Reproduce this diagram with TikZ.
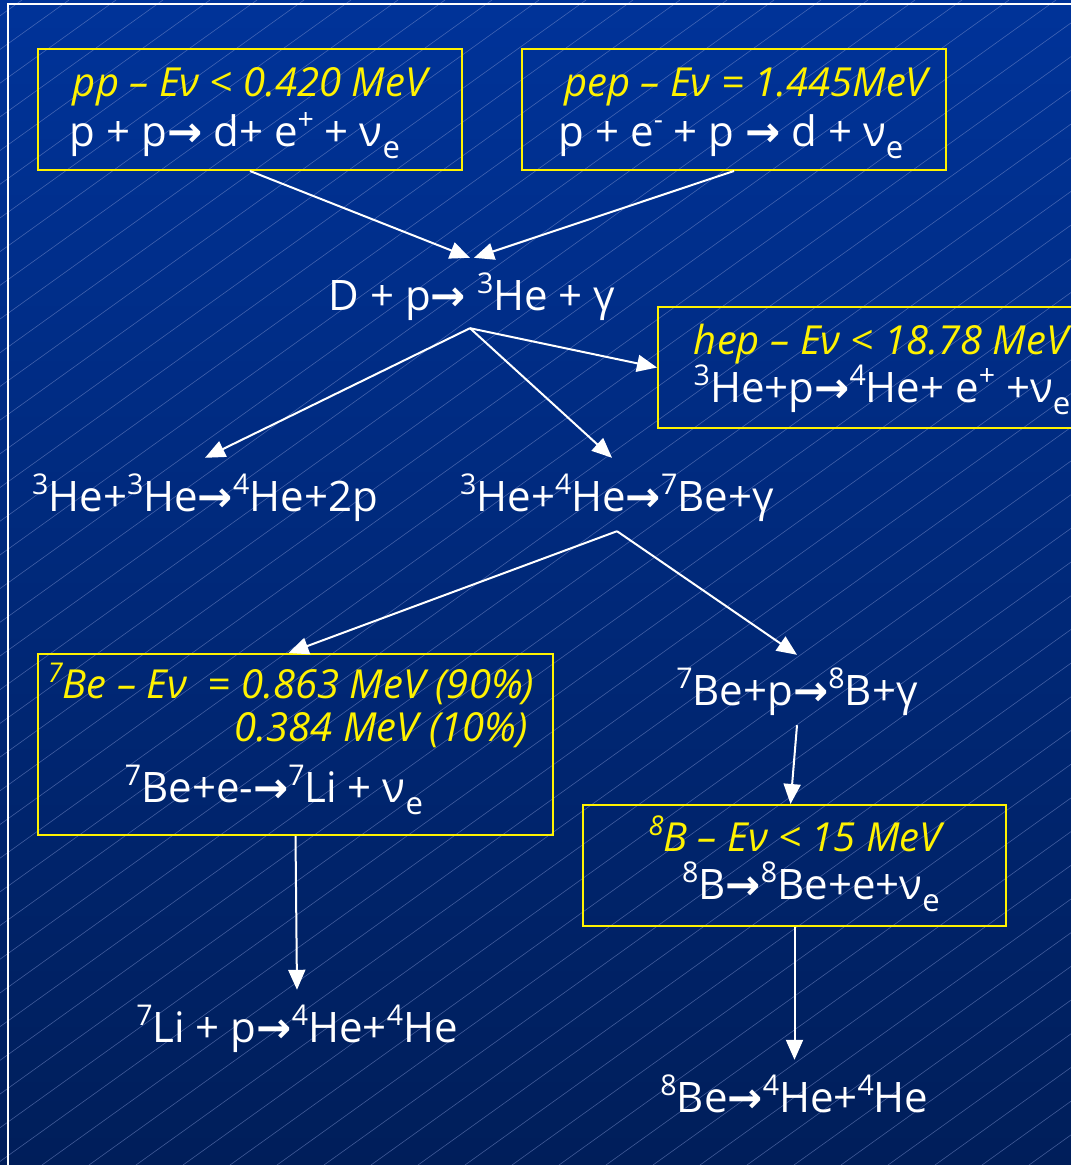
\documentclass[tikz,border=0pt]{standalone}
\usepackage{fontspec}
\setmainfont{Open Sans}
\newfontfamily\arrfont{DejaVu Sans}
\usetikzlibrary{arrows.meta}
\definecolor{bgtop}{RGB}{0,51,153}
\definecolor{bgbot}{RGB}{0,30,90}
\definecolor{hatch}{RGB}{130,150,210}
\newcommand\hi[1]{\raisebox{0.40em}{\scalebox{0.68}{#1}}}
\newcommand\lo[1]{\raisebox{-0.3em}{\scalebox{0.74}{#1}}}
\newcommand\rarr{{\arrfont\bfseries →}}
\begin{document}
\begin{tikzpicture}[x=1pt,y=-1pt,
  wtext/.style={text=white, font=\fontsize{42}{48}\selectfont, inner sep=0pt, anchor=base},
  ytext/.style={text=yellow, font=\fontsize{40}{46}\selectfont\itshape, inner sep=0pt, anchor=base},
  ybox/.style={draw=yellow, line width=2pt, inner sep=0pt},
  arr/.style={draw=white, line width=2pt, -{Triangle[length=20pt,width=17pt]}},
  frame/.style={draw=white, line width=2.5pt}]
\useasboundingbox (0,0) rectangle (1071,1165);
\shade[top color=bgtop, bottom color=bgbot] (0,0) rectangle (1071,1165);
\begin{scope}
\clip (0,0) rectangle (1071,1165);
\foreach \a in {-1650,-1603,...,1100} {
  \draw[hatch, line width=0.6pt, opacity=0.5] (\a,1165) -- (\a+1625,0);
}
\end{scope}
\draw[frame] (8,1170) -- (8,4) -- (1075,4);

% boxes
\node[ybox, minimum width=424pt, minimum height=121pt] (pp) at (250,109.5) {};
\node[ybox, minimum width=424pt, minimum height=121pt] (pep) at (734,109.5) {};
\node[ybox, minimum width=418pt, minimum height=121pt] (hep) at (867,367.5) {};
\node[ybox, minimum width=515pt, minimum height=181pt] (be7) at (295.5,744.5) {};
\node[ybox, minimum width=423pt, minimum height=121pt] (b8) at (794.5,865.5) {};

% box texts
\node[ytext] (pp1) at (250,96) {pp – Eν < 0.420 MeV};
\node[wtext] (pp2) at (235,146) {p + p\rarr{} d+ e\hi{+} + ν\lo{e}};
\node[ytext] (pep1) at (746,96) {pep – Eν = 1.445MeV};
\node[wtext] (pep2) at (731,146) {p + e\hi{-} + p \rarr{} d + ν\lo{e}};
\node[ytext] (hep1) at (881,354) {hep – Eν < 18.78 MeV};
\node[wtext] (hep2) at (882,402) {\hi{3}He+p\rarr\hi{4}He+ e\hi{+} +ν\lo{e}};
\node[ytext] (be71) at (291,698) {\hi{7}Be – Eν \ = 0.863 MeV (90\%)};
\node[ytext, anchor=base east] (be72) at (528,741) {0.384 MeV (10\%)};
\node[wtext] (be73) at (274,802) {\hi{7}Be+e-\rarr\hi{7}Li + ν\lo{e}};
\node[ytext] (b81) at (795,851) {\hi{8}B – Eν < 15 MeV};
\node[wtext] (b82) at (811,899) {\hi{8}B\rarr\hi{8}Be+e+ν\lo{e}};

% free reaction nodes
\node[wtext, text height=52pt, text depth=18pt] (dp) at (472,310) {D + p\rarr{} \hi{3}He + γ};
\node[wtext, text height=53pt, text depth=20pt] (he33) at (205,511) {\hi{3}He+\hi{3}He\rarr\hi{4}He+2p};
\node[wtext, text height=53pt, text depth=20pt] (he34) at (617,511) {\hi{3}He+\hi{4}He\rarr\hi{7}Be+γ};
\node[wtext, text height=50pt, text depth=20pt] (be7p) at (797,705) {\hi{7}Be+p\rarr\hi{8}B+γ};
\node[wtext, text height=52pt, text depth=15pt] (li7) at (297,1042) {\hi{7}Li + p\rarr\hi{4}He+\hi{4}He};
\node[wtext, text height=52pt, text depth=15pt] (be8) at (794.5,1112) {\hi{8}Be\rarr\hi{4}He+\hi{4}He};

% connectors
\draw[arr] (pp.south) -- ([xshift=-2pt]dp.north);
\draw[arr] (pep.south) -- ([xshift=2pt]dp.north);
\draw[arr] ([xshift=-2pt]dp.south) -- (he33.north);
\draw[arr] ([xshift=-2pt]dp.south) -- ([xshift=-5pt]he34.north);
\draw[arr] ([xshift=-2pt]dp.south) -- (hep.west);
\draw[arr] (he34.south) -- ([xshift=-7pt]be7.north);
\draw[arr] (he34.south) -- (be7p.north);
\draw[arr] (be7p.south) -- ([xshift=-4pt]b8.north);
\draw[arr] (be7.south) -- (li7.north);
\draw[arr] (b8.south) -- (be8.north);
\end{tikzpicture}
\end{document}
